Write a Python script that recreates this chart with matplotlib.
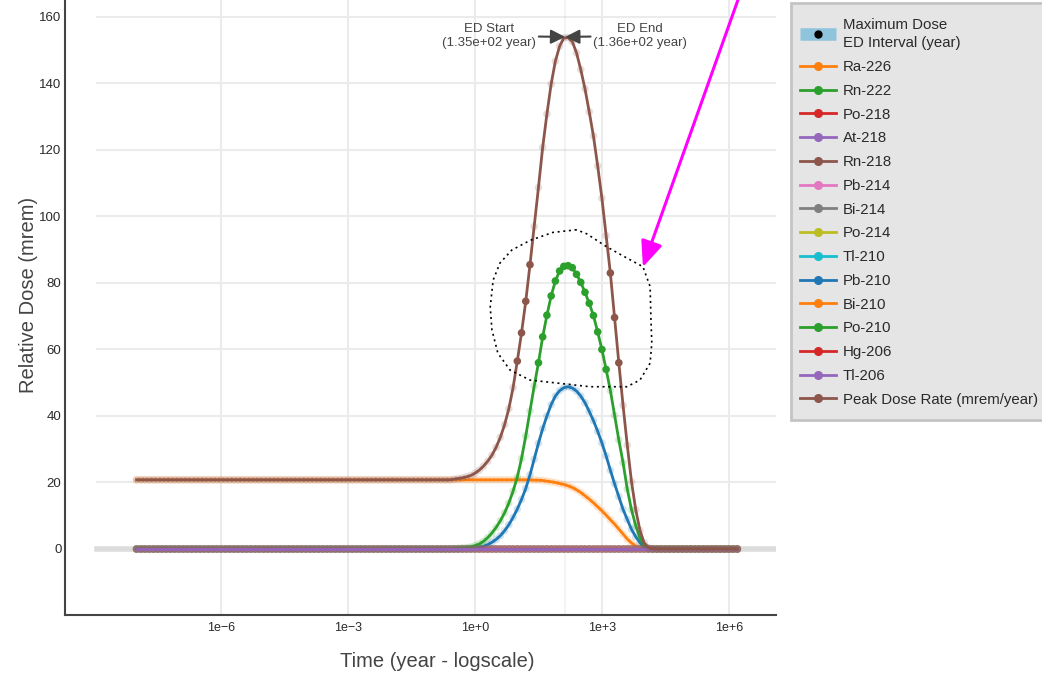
import numpy as np
import matplotlib.pyplot as plt
from matplotlib.lines import Line2D
from matplotlib.patches import Rectangle
from matplotlib.path import Path
from matplotlib.colors import to_rgba
from matplotlib.ticker import FixedLocator, NullLocator
from matplotlib.legend_handler import HandlerTuple

plt.rcParams['font.family'] = ['Liberation Sans', 'DejaVu Sans']

# ---- data -------------------------------------------------------------
# time grid (log10 of years), one point every 0.1 decade, 1e-8 .. 10^6.2
log_time = np.arange(-80, 63) / 10
time_years = 10 ** log_time

n_left = 75    # 1e-8 .. 10^-0.6, flat part
n_right = 20   # 10^4.3 .. 10^6.2, everything back at zero

# values read for 10^-0.5 .. 10^4.2
ra226_mid = [20.8, 20.8, 20.8, 20.8, 20.8,
             20.8, 20.8, 20.8, 20.8, 20.8, 20.8, 20.8, 20.8, 20.8, 20.8,
             20.8, 20.8, 20.8, 20.8, 20.7, 20.7, 20.6, 20.4, 20.2, 20.0,
             19.7, 19.4, 19.0, 18.5, 17.8, 17.0, 16.0, 15.0, 13.9, 12.7,
             11.5, 10.2, 8.8, 7.5, 6.0, 4.5, 3.0, 1.8, 0.9, 0.3,
             0.1, 0.0, 0.0]
po210_mid = [0.1, 0.2, 0.3, 0.4, 0.6,
             1.0, 1.5, 2.3, 3.4, 4.8, 6.5, 8.5, 10.9, 13.8, 17.4,
             21.6, 27.2, 34.0, 41.5, 49.0, 56.0, 63.8, 70.3, 76.1, 80.6,
             83.6, 85.0, 85.2, 84.6, 82.6, 80.2, 77.2, 73.9, 70.2, 65.3,
             60.0, 54.0, 47.7, 40.2, 32.8, 26.0, 18.0, 11.8, 7.0, 3.3,
             1.0, 0.2, 0.0]
pb210_mid = [0.0, 0.0, 0.1, 0.1, 0.2,
             0.3, 0.5, 0.8, 1.3, 2.0, 2.9, 4.0, 5.5, 7.3, 9.5,
             12.0, 14.9, 18.2, 22.3, 27.0, 31.8, 36.2, 40.0, 43.4, 46.0,
             47.6, 48.5, 48.8, 48.4, 47.5, 46.0, 44.0, 41.4, 38.6, 35.4,
             31.9, 28.0, 23.7, 19.6, 15.8, 11.9, 8.9, 5.9, 3.7, 1.9,
             0.6, 0.1, 0.0]
peak_mid = [21.0, 21.2, 21.4, 21.7, 22.1,
            22.8, 23.7, 24.9, 26.4, 28.2, 30.6, 33.6, 37.4, 42.2, 48.5,
            56.5, 65.0, 74.5, 85.5, 97.0, 108.7, 120.8, 130.8, 139.8, 146.7,
            151.2, 153.7, 153.8, 152.6, 149.2, 144.2, 138.4, 131.5, 124.2, 115.2,
            105.5, 94.2, 83.0, 69.6, 56.0, 43.2, 31.2, 20.2, 11.8, 5.6,
            1.8, 0.4, 0.1]

ra226 = [20.8] * n_left + ra226_mid + [0.0] * n_right
po210 = [0.0] * n_left + po210_mid + [0.0] * n_right
pb210 = [0.0] * n_left + pb210_mid + [0.0] * n_right
peak_dose = [20.8] * n_left + peak_mid + [0.0] * n_right
zeros = [0.0] * len(log_time)

series_names = ['Ra-226', 'Rn-222', 'Po-218', 'At-218', 'Rn-218', 'Pb-214', 'Bi-214',
                'Po-214', 'Tl-210', 'Pb-210', 'Bi-210', 'Po-210', 'Hg-206', 'Tl-206',
                'Peak Dose Rate (mrem/year)']
series_values = {'Ra-226': ra226, 'Pb-210': pb210, 'Po-210': po210,
                 'Peak Dose Rate (mrem/year)': peak_dose}
series_colors = ['#ff7f0e', '#2ca02c', '#d62728', '#9467bd', '#8c564b', '#e377c2', '#7f7f7f',
                 '#bcbd22', '#17becf', '#1f77b4', '#ff7f0e', '#2ca02c', '#d62728', '#9467bd',
                 '#8c564b']

ed_start = 135.0
ed_end = 136.0
max_dose = 154.0

# lasso selection drawn on the chart (log10 year, mrem)
lasso_log_t = [2.40, 1.84, 1.30, 0.87, 0.59, 0.43, 0.36, 0.40, 0.54, 0.83, 1.30, 1.94,
               2.72, 3.59, 3.90, 4.14, 4.18, 4.16, 4.14, 3.97, 3.59, 3.11, 2.64]
lasso_dose = [96.0, 95.2, 92.8, 89.9, 86.0, 80.9, 72.8, 65.9, 58.9, 53.8, 50.8, 49.9,
              48.8, 48.8, 50.8, 55.9, 62.0, 68.9, 78.9, 84.9, 87.5, 90.9, 94.8]

x_tick_values = [1e-6, 1e-3, 1e0, 1e3, 1e6]
x_tick_labels = ['1e\u22126', '1e\u22123', '1e+0', '1e+3', '1e+6']
y_tick_values = [0, 20, 40, 60, 80, 100, 120, 140, 160]

# ---- figure -----------------------------------------------------------
W, H = 1042, 679
fig = plt.figure(figsize=(W / 100, H / 100), dpi=100)
ax = fig.add_axes([65 / W, 64 / H, 711 / W, 615 / H])
ax.set_xscale('log')
ax.set_xlim(10 ** -9.693, 10 ** 7.116)
ax.set_ylim(-19.85, 165.1)

# grid (plot area starts a bit right of the y axis line)
grid_x0 = 32 / 711
ax.xaxis.set_major_locator(FixedLocator(x_tick_values))
ax.xaxis.set_minor_locator(NullLocator())
ax.set_xticklabels(x_tick_labels)
ax.set_yticks(y_tick_values)
ax.grid(axis='x', color='#ebebeb', lw=1.5, zorder=0)
for yv in y_tick_values[1:]:
    ax.axhline(yv, xmin=grid_x0, color='#ebebeb', lw=1.5, zorder=0)
ax.axhline(0, xmin=grid_x0, color='#dcdcdc', lw=4, zorder=0.5)
ax.set_axisbelow(True)

# ED interval
ax.axvline((ed_start + ed_end) / 2, color='#1f77b4', alpha=0.07, lw=1.5, zorder=0.6)

# selected points = inside the lasso
lasso_path = Path(np.column_stack([lasso_log_t, lasso_dose]))

for i, (name, color) in enumerate(zip(series_names, series_colors)):
    y = np.array(series_values.get(name, zeros))
    inside = lasso_path.contains_points(np.column_stack([log_time, y]))
    z = 2 + i
    ax.plot(time_years, y, color=color, lw=2, zorder=z)
    rgba = [to_rgba(color, 1.0 if s else 0.2) for s in inside]
    ax.scatter(time_years, y, s=30, c=rgba, linewidths=0, zorder=z + 0.5)

# lasso outline
ax.plot(10 ** np.array(lasso_log_t + lasso_log_t[:1]), lasso_dose + lasso_dose[:1],
        color='black', lw=1.2, ls=(0, (1.2, 2.2)), zorder=31)

# ED start / end annotations
ax.annotate('ED Start\n(1.35e+02 year)', xy=(ed_start, max_dose), xytext=(-76, 1),
            textcoords='offset pixels', ha='center', va='center', fontsize=9.5, color='#444444',
            arrowprops=dict(arrowstyle='-|>,head_length=0.9,head_width=0.45', color='#444444',
                            lw=1.5, shrinkA=0, shrinkB=0), zorder=32)
ax.annotate('ED End\n(1.36e+02 year)', xy=(ed_end, max_dose), xytext=(75, 1),
            textcoords='offset pixels', ha='center', va='center', fontsize=9.5, color='#444444',
            arrowprops=dict(arrowstyle='-|>,head_length=0.9,head_width=0.45', color='#444444',
                            lw=1.5, shrinkA=0, shrinkB=0), zorder=32)

# magenta pointer arrow
ax.annotate('', xy=(10 ** 3.97, 84.8), xytext=(10 ** 6.30, 168.1),
            arrowprops=dict(arrowstyle='-|>,head_length=1.3,head_width=0.55', color='#ff00ff',
                            lw=2.2, mutation_scale=12, shrinkA=0, shrinkB=0),
            annotation_clip=False, zorder=33)

# axes style
for side in ['top', 'right']:
    ax.spines[side].set_visible(False)
for side in ['left', 'bottom']:
    ax.spines[side].set_color('#444444')
    ax.spines[side].set_linewidth(1.5)
ax.tick_params(axis='both', length=0, labelsize=9, labelcolor='#2a2a2a')
ax.tick_params(axis='y', pad=2.5, labelsize=9.5)
ax.tick_params(axis='x', pad=5)

ax.set_xlabel('Time (year - logscale)', fontsize=14.5, color='#444444', va='center')
ax.xaxis.set_label_coords(0.523, -0.0764)
ax.set_ylabel('Relative Dose (mrem)', fontsize=14.5, color='#444444', va='center')
ax.yaxis.set_label_coords(-0.052, 0.52)

# legend box (drawn separately so the padding can differ per side)
fig.patches.append(Rectangle((791 / W, 1 - 420 / H), 260 / W, 417 / H,
                             transform=fig.transFigure, facecolor='#e5e5e5',
                             edgecolor='#c4c4c4', lw=2, zorder=0))

handles = [(Line2D([], [], color='#8fc4dd', lw=9, solid_capstyle='butt'),
            Line2D([], [], marker='o', color='black', ls='none', ms=5))]
labels = ['Maximum Dose\nED Interval (year)']
for name, color in zip(series_names, series_colors):
    handles.append(Line2D([], [], color=color, lw=2, marker='o', ms=5.5))
    labels.append(name)

leg = fig.legend(handles, labels, loc='upper left', bbox_to_anchor=(800 / W, 1 - 18 / H),
                 fontsize=10.8, handlelength=2.4, handletextpad=0.45, borderpad=0,
                 labelspacing=0.65, borderaxespad=0, frameon=False,
                 handler_map={tuple: HandlerTuple(ndivide=1)})
for t in leg.get_texts():
    t.set_color('#2a2a2a')
leg.get_texts()[0].set_linespacing(1.4)

fig.savefig('out.png', dpi=100)
